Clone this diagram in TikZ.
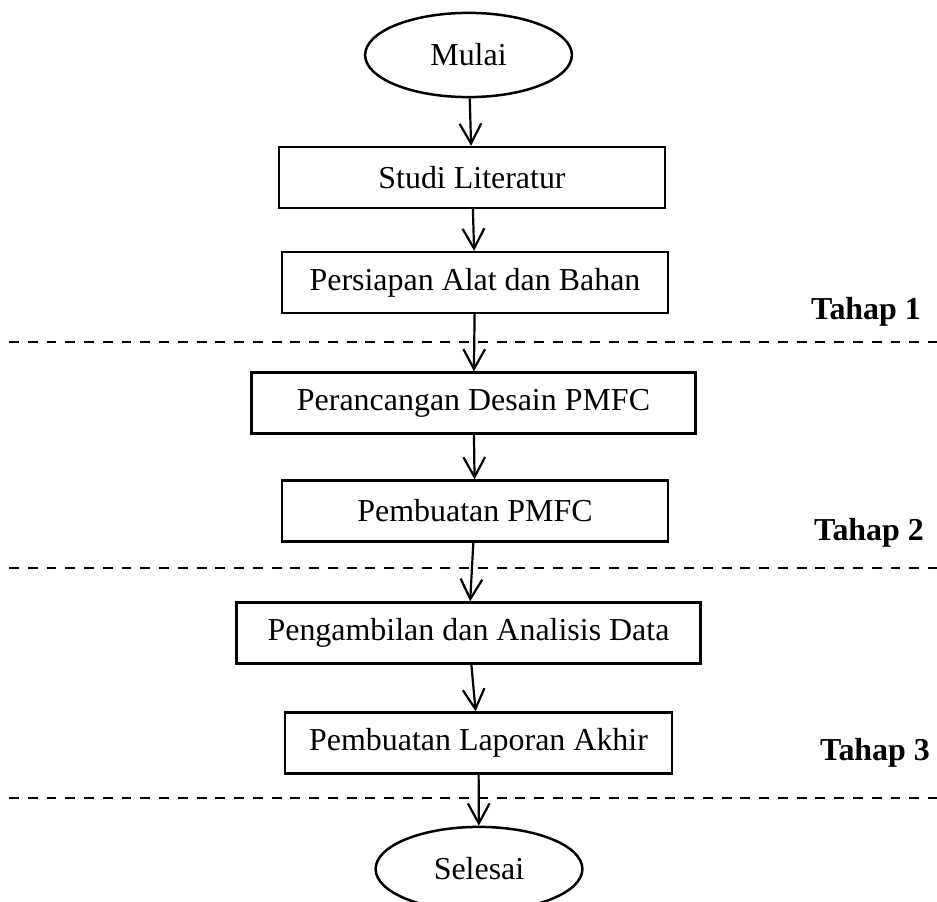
\documentclass[tikz,border=0pt]{standalone}
\usepackage{fontspec}
\setmainfont{Liberation Serif}
\usetikzlibrary{shapes.geometric}
\usetikzlibrary{arrows.meta}

\begin{document}
\begin{tikzpicture}[x= 0.012cm, y= -0.012cm, font= \fontsize{10.9}{13}\selectfont,
	terminal/.style= {draw, ellipse, line width= 0.85pt, minimum width= 2.48cm, minimum height= 1.01cm, inner sep= 0pt},
	proses/.style= {draw, rectangle, line width= 0.85pt, minimum height= 0.73cm, inner sep= 0pt},
	alur/.style= {line width= 0.75pt, arrows= {-Straight Barb[length= 6.8pt, width= 7.4pt]}},
	batas/.style= {line width= 0.8pt, dash pattern= on 3.4pt off 3pt},
	tahap/.style= {font= \fontsize{10.9}{13}\selectfont\bfseries}]
	\useasboundingbox (0,0) rectangle (937,902);

	% mulai dan tahap 1
	\node [terminal] (mulai) at (468.5,55) {Mulai};
	\node [proses, minimum width= 4.63cm] (studi) at (472,177.5) {Studi Literatur};
	\node [proses, minimum width= 4.63cm] (persiapan) at (475,282.5) {Persiapan Alat dan Bahan};
	\node [tahap] (tahap1) at (866,312) {Tahap 1};

	% tahap 2
	\node [proses, minimum width= 5.32cm] (desain) at (473.5,403) {Perancangan Desain PMFC};
	\node [proses, minimum width= 4.63cm] (pembuatan) at (475,511) {Pembuatan PMFC};
	\node [tahap] (tahap2) at (869,533) {Tahap 2};

	% tahap 3 dan selesai
	\node [proses, minimum width= 5.56cm] (data) at (468.5,633) {Pengambilan dan Analisis Data};
	\node [proses, minimum width= 4.64cm] (laporan) at (478.5,743) {Pembuatan Laporan Akhir};
	\node [tahap] (tahap3) at (875,753) {Tahap 3};
	\node [terminal] (selesai) at (479,869) {Selesai};

	% garis batas antar tahap
	\draw [batas] (9,342) -- (937,342);
	\draw [batas] (9,568) -- (937,568);
	\draw [batas] (9,798) -- (937,798);

	% alur
	\draw [alur] (mulai) -- (studi);
	\draw [alur] (studi) -- (persiapan);
	\draw [alur] (persiapan) -- (desain);
	\draw [alur] (desain) -- (pembuatan);
	\draw [alur] (pembuatan) -- (data);
	\draw [alur] (data) -- (laporan);
	\draw [alur] (laporan) -- (selesai);

\end{tikzpicture}
\end{document}
